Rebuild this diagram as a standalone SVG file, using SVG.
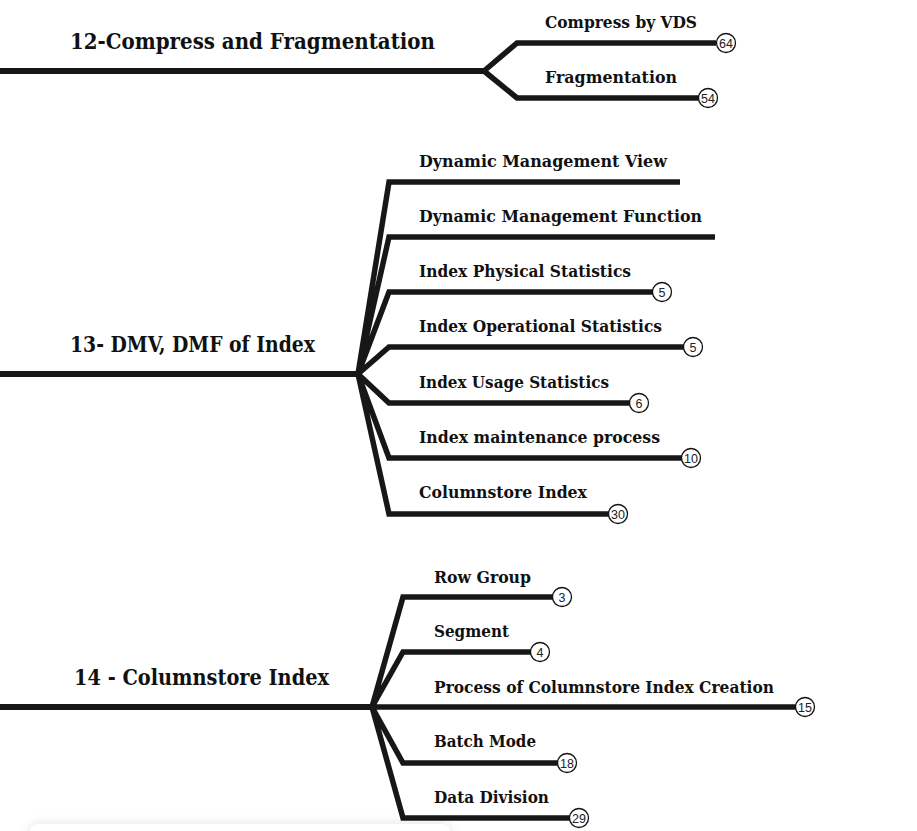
<svg xmlns="http://www.w3.org/2000/svg" width="917" height="831" viewBox="0 0 917 831">
<style>
.ln{fill:none;stroke:#171717;stroke-width:5.5;stroke-linejoin:miter;stroke-linecap:butt}
.main{fill:none;stroke:#171717;stroke-width:6}
.t{font-family:"DejaVu Serif",serif;font-weight:bold;fill:#111;font-size:16.5px}
.h{font-family:"DejaVu Serif",serif;font-weight:bold;fill:#111;font-size:21.5px}
.bc{fill:#fff;stroke:#111;stroke-width:1.3}
.bt{font-family:"Liberation Sans",Arial,sans-serif;font-size:12.5px;fill:#222;text-anchor:middle}
</style>
<defs>
<filter id="sh" x="-10%" y="-200%" width="120%" height="400%">
<feGaussianBlur stdDeviation="6"/>
</filter>
</defs>
<rect width="917" height="831" fill="#fff"/>
<g id="panel">
<rect x="30" y="824" width="420" height="30" rx="8" fill="#000" opacity="0.12" filter="url(#sh)"/>
<rect x="30" y="824" width="420" height="30" rx="8" fill="#fff"/>
</g>
<g id="connectors">
<path class="main" d="M0 71H484"/>
<path class="ln" d="M484 71L517 43H716M484 71L517 98H699"/>
<path class="main" d="M0 374H358"/>
<path class="ln" d="M358 374L389 182H680M358 374L389 237H715M358 374L389 292H653M358 374L389 347H684M358 374L389 403H630M358 374L389 458H682M358 374L389 514H609"/>
<path class="main" d="M0 707H372"/>
<path class="ln" d="M372 707L403 597H553M372 707L403 652H531M372 707H796M372 707L403 763H558M372 707L403 818H570"/>
</g>
<g id="n12">
<text class="h" x="70" y="49" textLength="365" lengthAdjust="spacingAndGlyphs">12-Compress and Fragmentation</text>
</g>
<g id="n12a">
<text class="t" x="545" y="28" textLength="152" lengthAdjust="spacingAndGlyphs">Compress by VDS</text>
<circle class="bc" cx="726" cy="43" r="9.5"/><text class="bt" x="726" y="47.5">64</text>
</g>
<g id="n12b">
<text class="t" x="545" y="83" textLength="132" lengthAdjust="spacingAndGlyphs">Fragmentation</text>
<circle class="bc" cx="708" cy="98" r="9.5"/><text class="bt" x="708" y="102.5">54</text>
</g>
<g id="n13">
<text class="h" x="70" y="352" textLength="245" lengthAdjust="spacingAndGlyphs">13- DMV, DMF of Index</text>
</g>
<g id="n13a"><text class="t" x="419" y="167" textLength="248" lengthAdjust="spacingAndGlyphs">Dynamic Management View</text></g>
<g id="n13b"><text class="t" x="419" y="222" textLength="283" lengthAdjust="spacingAndGlyphs">Dynamic Management Function</text></g>
<g id="n13c"><text class="t" x="419" y="277" textLength="212" lengthAdjust="spacingAndGlyphs">Index Physical Statistics</text>
<circle class="bc" cx="662" cy="292" r="9.5"/><text class="bt" x="662" y="296.5">5</text></g>
<g id="n13d"><text class="t" x="419" y="332" textLength="243" lengthAdjust="spacingAndGlyphs">Index Operational Statistics</text>
<circle class="bc" cx="693" cy="347" r="9.5"/><text class="bt" x="693" y="351.5">5</text></g>
<g id="n13e"><text class="t" x="419" y="388" textLength="190" lengthAdjust="spacingAndGlyphs">Index Usage Statistics</text>
<circle class="bc" cx="639" cy="403" r="9.5"/><text class="bt" x="639" y="407.5">6</text></g>
<g id="n13f"><text class="t" x="419" y="443" textLength="241" lengthAdjust="spacingAndGlyphs">Index maintenance process</text>
<circle class="bc" cx="691" cy="458" r="9.5"/><text class="bt" x="691" y="462.5">10</text></g>
<g id="n13g"><text class="t" x="419" y="498" textLength="168" lengthAdjust="spacingAndGlyphs">Columnstore Index</text>
<circle class="bc" cx="618" cy="514" r="9.5"/><text class="bt" x="618" y="518.5">30</text></g>
<g id="n14">
<text class="h" x="74" y="685" textLength="255" lengthAdjust="spacingAndGlyphs">14 - Columnstore Index</text>
</g>
<g id="n14a"><text class="t" x="434" y="583" textLength="97" lengthAdjust="spacingAndGlyphs">Row Group</text>
<circle class="bc" cx="562" cy="597" r="9.5"/><text class="bt" x="562" y="601.5">3</text></g>
<g id="n14b"><text class="t" x="434" y="637" textLength="75" lengthAdjust="spacingAndGlyphs">Segment</text>
<circle class="bc" cx="540" cy="652" r="9.5"/><text class="bt" x="540" y="656.5">4</text></g>
<g id="n14c"><text class="t" x="434" y="693" textLength="340" lengthAdjust="spacingAndGlyphs">Process of Columnstore Index Creation</text>
<circle class="bc" cx="805" cy="707" r="9.5"/><text class="bt" x="805" y="711.5">15</text></g>
<g id="n14d"><text class="t" x="434" y="747" textLength="102" lengthAdjust="spacingAndGlyphs">Batch Mode</text>
<circle class="bc" cx="567" cy="763" r="9.5"/><text class="bt" x="567" y="767.5">18</text></g>
<g id="n14e"><text class="t" x="434" y="803" textLength="115" lengthAdjust="spacingAndGlyphs">Data Division</text>
<circle class="bc" cx="579" cy="818" r="9.5"/><text class="bt" x="579" y="822.5">29</text></g>
</svg>
